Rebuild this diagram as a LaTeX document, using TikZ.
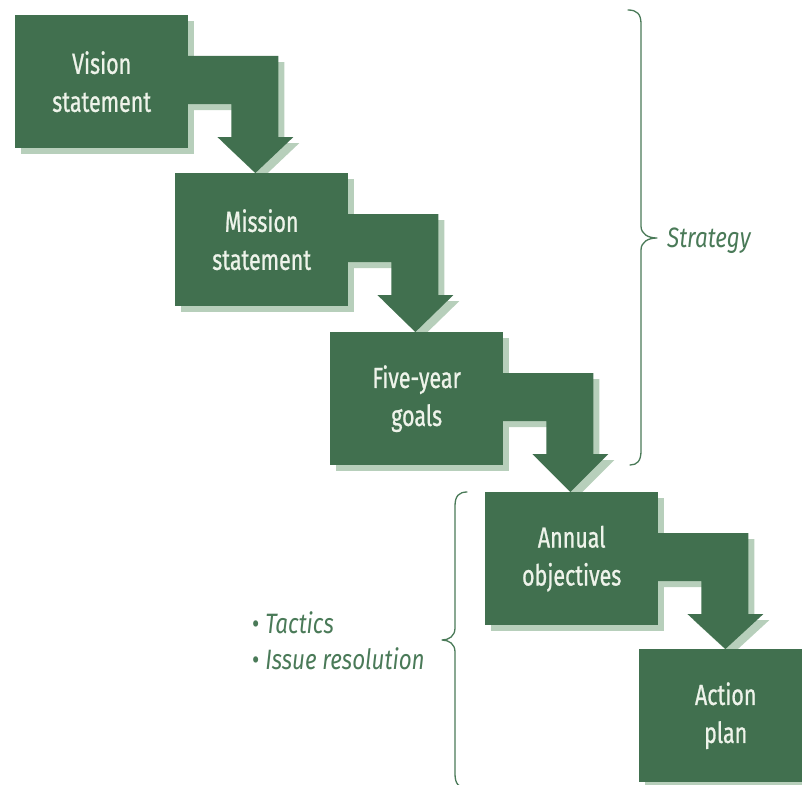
\documentclass[tikz,border=0pt]{standalone}
\usepackage{fontspec}
\setmainfont{Fira Sans}[FakeStretch=0.74]
\newfontfamily\stagefont{Fira Sans}[FakeStretch=0.74, FakeBold=0.8]
\newfontfamily\notefont{Fira Sans}[FakeStretch=0.8]
\usetikzlibrary{calc,shadows}

\definecolor{boxgreen}{HTML}{41704F}
\definecolor{shadegreen}{HTML}{B7CFBB}
\definecolor{inkgreen}{HTML}{4A7A58}
\definecolor{boxtext}{HTML}{EEF3EA}

\pgfdeclarelayer{shadowlayer}
\pgfsetlayers{shadowlayer,main}

\tikzset{
  stage/.style={fill=boxgreen, text=boxtext, minimum width=173pt, minimum height=133pt,
    inner sep=0pt, anchor=north west, align=center,
    font=\stagefont\fontsize{29}{38}\selectfont,
    drop shadow={shadow xshift=6pt, shadow yshift=-6pt, fill=shadegreen, opacity=1}},
  flowfill/.style={fill=boxgreen},
  flowshade/.style={fill=shadegreen, transform canvas={shift={(6pt,-6pt)}}},
  bracket/.style={draw=inkgreen, line width=1.3pt, line cap=round, line join=round},
  note/.style={text=inkgreen, inner sep=0pt, font=\notefont\fontsize{28}{34}\selectfont\itshape},
}

% elbow block arrow from the right side of #1 down onto the top of #2
\newcommand\elbowpath[2]{%
  ($(#1.north east)+(-1,41)$) -- ($(#1.north east)+(90,41)$) --
  ($(#1.north east)+(90,122)$) -- ($(#1.north east)+(105,122)$) --
  (#1-tip |- #2.north) --
  ($(#1.north east)+(29,122)$) -- ($(#1.north east)+(43,122)$) --
  ($(#1.north east)+(43,89)$) -- ($(#1.north east)+(-1,89)$) -- cycle}

\newcommand\elbowarrow[2]{%
  \coordinate (#1-tip) at ($(#1.north east)+(67,0)$);
  \begin{pgfonlayer}{shadowlayer}
    \fill[flowshade] \elbowpath{#1}{#2};
  \end{pgfonlayer}
  \fill[flowfill] \elbowpath{#1}{#2};}

\begin{document}
\begin{tikzpicture}[x=1pt, y=-1pt]
  \useasboundingbox (0,0) rectangle (802,784);
  \clip (0,0) rectangle (802,784);

  % the five planning stages
  \node[stage] (vision)  at (15,15)   {Vision\\statement};
  \node[stage] (mission) at (175,173) {Mission\\statement};
  \node[stage] (goals)   at (330,332) {Five-year\\goals};
  \node[stage] (annual)  at (485,492) {Annual\\objectives};
  \node[stage] (action)  at (639,649) {Action\\plan};

  % connecting block arrows
  \elbowarrow{vision}{mission}
  \elbowarrow{mission}{goals}
  \elbowarrow{goals}{annual}
  \elbowarrow{annual}{action}

  % strategy brace, opening left
  \draw[bracket] (628,10) .. controls (637,10) and (641,14) .. (641,24)
    -- (641,226) .. controls (641,234) and (648,238) .. (657,238)
    .. controls (648,238) and (641,242) .. (641,250)
    -- (641,451) .. controls (641,461) and (637,465) .. (630,465);
  \node[note, anchor=base west] (strategy) at (667,247) {Strategy};

  % tactics brace, opening right
  \draw[bracket] (467,492) .. controls (459,492) and (455,496) .. (455,506)
    -- (455,628) .. controls (455,636) and (449,640) .. (442,640)
    .. controls (449,640) and (455,644) .. (455,652)
    -- (455,774) .. controls (455,784) and (459,788) .. (467,788);
  \node[note, anchor=base west] (tactics) at (252,633) {{\upshape\textbullet}\ Tactics};
  \node[note, anchor=base west] (issues)  at (252,669) {{\upshape\textbullet}\ Issue resolution};
\end{tikzpicture}
\end{document}
